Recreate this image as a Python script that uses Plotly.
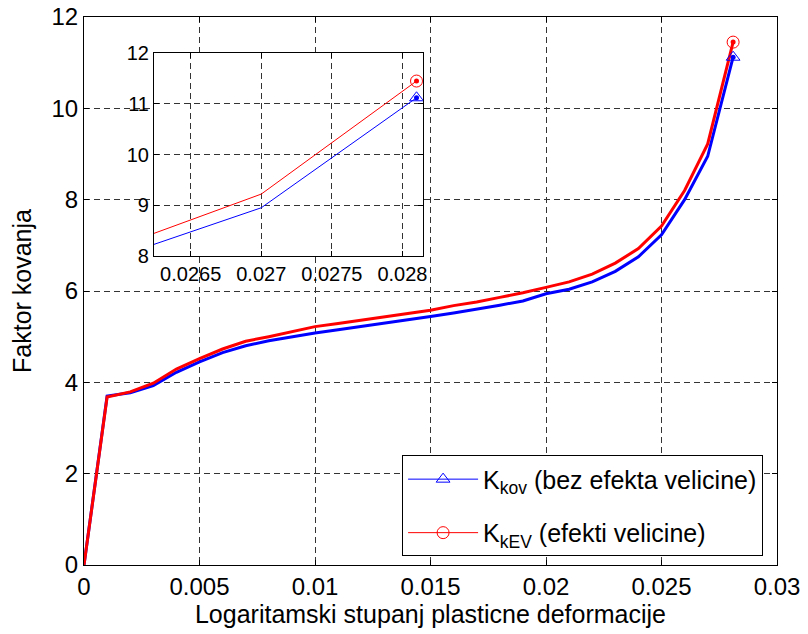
import plotly.graph_objects as go

# ---- data ----
strain = [0.0, 0.001, 0.002, 0.003, 0.004, 0.005, 0.006, 0.007, 0.008, 0.009,
          0.010, 0.011, 0.012, 0.013, 0.014, 0.015, 0.016, 0.017, 0.018, 0.019,
          0.020, 0.021, 0.022, 0.023, 0.024, 0.025, 0.026, 0.027, 0.0281]
k_kov = [0.0, 3.70, 3.77, 3.93, 4.22, 4.45, 4.65, 4.80, 4.91, 5.00,
         5.08, 5.15, 5.22, 5.29, 5.36, 5.44, 5.52, 5.60, 5.69, 5.78,
         5.94, 6.04, 6.20, 6.43, 6.75, 7.23, 8.00, 8.95, 11.12]
k_kev = [0.0, 3.68, 3.79, 3.98, 4.29, 4.52, 4.73, 4.90, 5.00, 5.11,
         5.22, 5.29, 5.36, 5.44, 5.51, 5.58, 5.68, 5.76, 5.86, 5.96,
         6.08, 6.20, 6.37, 6.61, 6.93, 7.42, 8.20, 9.22, 11.45]

name_kov = "K<sub>kov</sub> (bez efekta velicine)"
name_kev = "K<sub>kEV</sub> (efekti velicine)"

x_ticks = [0, 0.005, 0.01, 0.015, 0.02, 0.025, 0.03]
x_ticktext = ["0", "0.005", "0.01", "0.015", "0.02", "0.025", "0.03"]
y_ticks = [0, 2, 4, 6, 8, 10, 12]
ins_x_ticks = [0.0265, 0.027, 0.0275, 0.028]
ins_x_ticktext = ["0.0265", "0.027", "0.0275", "0.028"]
ins_y_ticks = [8, 9, 10, 11, 12]

x_range = [0, 0.03]
y_range = [0, 12]
ins_x_range = [0.02624, 0.028145]
ins_y_range = [8, 12]
ins_dom_x = [0.101, 0.489]
ins_dom_y = [0.564, 0.934]

BLUE = "#0000ff"
RED = "#ff0000"
FONT = "Liberation Sans"

fig = go.Figure()

# main curves
fig.add_trace(go.Scatter(x=strain, y=k_kov, mode="lines", line=dict(color=BLUE, width=3),
                         showlegend=False, hoverinfo="skip"))
fig.add_trace(go.Scatter(x=strain, y=k_kev, mode="lines", line=dict(color=RED, width=3),
                         showlegend=False, hoverinfo="skip"))
# end markers (main)
fig.add_trace(go.Scatter(x=strain[-1:], y=k_kov[-1:], mode="lines+markers", name=name_kov,
                         legendgroup="a",
                         line=dict(color=BLUE, width=1),
                         marker=dict(symbol="triangle-up-open", size=12, color=BLUE, line=dict(width=1))))
fig.add_trace(go.Scatter(x=strain[-1:], y=k_kev[-1:], mode="lines+markers", name=name_kev,
                         legendgroup="b",
                         line=dict(color=RED, width=1),
                         marker=dict(symbol="circle-open", size=12, color=RED, line=dict(width=1))))
fig.add_trace(go.Scatter(x=strain[-1:], y=k_kov[-1:], mode="markers", showlegend=False,
                         marker=dict(symbol="circle", size=5, color=BLUE)))
fig.add_trace(go.Scatter(x=strain[-1:], y=k_kev[-1:], mode="markers", showlegend=False,
                         marker=dict(symbol="circle", size=5, color=RED)))

# inset curves
fig.add_trace(go.Scatter(x=strain, y=k_kov, mode="lines", line=dict(color=BLUE, width=1),
                         xaxis="x2", yaxis="y2", showlegend=False, cliponaxis=True))
fig.add_trace(go.Scatter(x=strain, y=k_kev, mode="lines", line=dict(color=RED, width=1),
                         xaxis="x2", yaxis="y2", showlegend=False, cliponaxis=True))
fig.add_trace(go.Scatter(x=strain[-1:], y=k_kov[-1:], mode="markers", xaxis="x2", yaxis="y2",
                         showlegend=False,
                         marker=dict(symbol="triangle-up-open", size=12, color=BLUE, line=dict(width=1))))
fig.add_trace(go.Scatter(x=strain[-1:], y=k_kev[-1:], mode="markers", xaxis="x2", yaxis="y2",
                         showlegend=False,
                         marker=dict(symbol="circle-open", size=12, color=RED, line=dict(width=1))))
fig.add_trace(go.Scatter(x=strain[-1:], y=k_kov[-1:], mode="markers", xaxis="x2", yaxis="y2",
                         showlegend=False, marker=dict(symbol="circle", size=5, color=BLUE)))
fig.add_trace(go.Scatter(x=strain[-1:], y=k_kev[-1:], mode="markers", xaxis="x2", yaxis="y2",
                         showlegend=False, marker=dict(symbol="circle", size=5, color=RED)))

grid = dict(showgrid=True, gridcolor="#333333", gridwidth=1, griddash="6px,4px",
            showline=True, linecolor="black", linewidth=1, mirror="allticks",
            ticks="inside", ticklen=5, tickcolor="black", zeroline=False,
            automargin=False, ticklabeloverflow="allow")

# white background for the inset, in main-axis coordinates derived from the domain
bx0 = x_range[0] + ins_dom_x[0] * (x_range[1] - x_range[0])
bx1 = x_range[0] + ins_dom_x[1] * (x_range[1] - x_range[0])
by0 = y_range[0] + ins_dom_y[0] * (y_range[1] - y_range[0])
by1 = y_range[0] + ins_dom_y[1] * (y_range[1] - y_range[0])
fig.add_shape(type="rect", xref="x", yref="y", x0=bx0, x1=bx1, y0=by0, y1=by1,
              fillcolor="white", line=dict(width=0), layer="between")

fig.update_layout(
    width=808, height=634,
    margin=dict(l=84, r=31, t=17, b=69),
    paper_bgcolor="white", plot_bgcolor="white",
    font=dict(family=FONT, size=24, color="black"),
    xaxis=dict(range=x_range, tickvals=x_ticks, ticktext=x_ticktext,
               title=dict(text="Logaritamski stupanj plasticne deformacije",
                          font=dict(size=25), standoff=2), **grid),
    yaxis=dict(range=y_range, tickvals=y_ticks,
               title=dict(text="Faktor kovanja", font=dict(size=25), standoff=12), **grid),
    xaxis2=dict(domain=ins_dom_x, anchor="y2", range=ins_x_range, tickvals=ins_x_ticks,
                ticktext=ins_x_ticktext, tickfont=dict(size=20), **grid),
    yaxis2=dict(domain=ins_dom_y, anchor="x2", range=ins_y_range, tickvals=ins_y_ticks,
                tickfont=dict(size=20), **grid),
    legend=dict(x=0.459, y=0.2, xanchor="left", yanchor="top",
                bgcolor="white", bordercolor="black", borderwidth=1,
                font=dict(size=25), itemwidth=70, tracegroupgap=18),
    showlegend=True,
)

# remove the default page margin so the figure sits at the window's top-left corner
fig.write_html("out.html", config={"displayModeBar": False},
               post_script="document.body.style.margin='0px';")
